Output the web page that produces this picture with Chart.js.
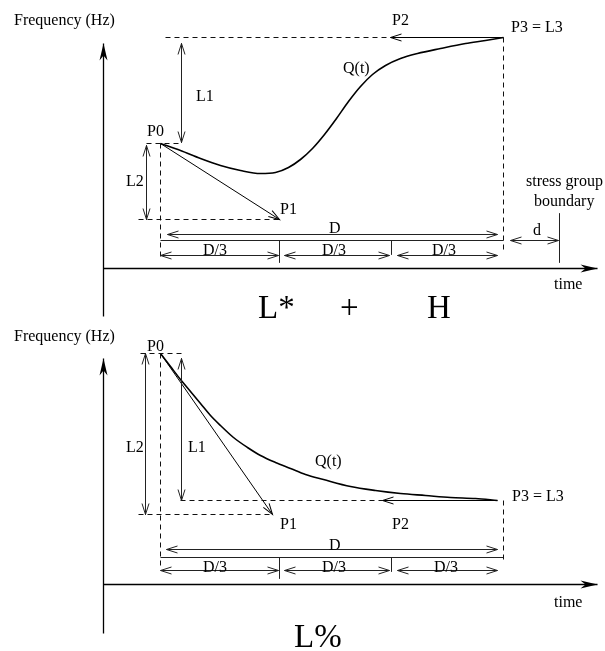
<!DOCTYPE html>
<html><head><meta charset="utf-8">
<script src="https://cdn.jsdelivr.net/npm/chart.js@4"></script>
<style>html,body{margin:0;padding:0;background:#fff}#wrap{width:605px;height:651px}</style>
</head><body><div id="wrap"><canvas id="c" width="605" height="651"></canvas></div>
<script>
// ---------- DATA (diagram coordinates: x = time, y = frequency, y grows downward) ----------
// Q(t) curve samples, top panel (L* + H)
const topCurveX = [160,180,200,220,240,260,275,288,300,312,324,336,348,360,372,385,400,417,440,465,485,503];
const topCurveY = [143,150,158,165,170,173,172,167,159,148,134,118,101,86,74,65,58,53,48,43,40,37];
// Q(t) curve samples, bottom panel (L%)
const botCurveX = [160,170,180,190,200,210,220,233,247,260,275,290,305,323,350,375,400,425,450,475,497];
const botCurveY = [353,366,379,391,403,415,425,437,447,455,462,468,474,479,486,490,493,495,497,498,500];
// control points P0, P1, P2, P3
const topPX = [160,279,390,503], topPY = [143,219,37,37];
const botPX = [160,272,382,497], botPY = [353,514,500,500];
// D/3 division positions on the time axis
const thirdsX = [160,279,391,503];

// axes [x1,y1,x2,y2]
const axes = [[103,316,103,43],[103,268,597,268],[103,633,103,358],[103,584,597,584]];
// dashed guide lines
const dashed = [
  [165,37,390,37],[503,37,503,250],[146,143,182,143],[160,143,160,258],[138,219,278,219],
  [140,353,185,353],[160,353,160,566],[138,514,272,514],[180,500,382,500],[503,500,503,562]
];
// dimension arrows [x1,y1,x2,y2,heads]
const dims = [
  [181,43,181,142,'both'],[146,145,146,219,'both'],
  [167,234,497,234,'both'],[160,255,278,255,'both'],[284,255,389,255,'both'],[397,255,497,255,'both'],
  [510,240,558,240,'both'],
  [145,353,145,514,'both'],[181,358,181,500,'both'],
  [166,549,497,549,'both'],[160,570,278,570,'both'],[284,570,389,570,'both'],[397,570,497,570,'both']
];
// plain solid lines (brackets, ticks, boundary)
const plain = [
  [160,240,503,240],[279,240,279,262],[391,240,391,254],[559,213,559,262],
  [160,557,503,557],[279,557,279,578],[391,557,391,571]
];
// text labels [text, x, baseline y, size]
const texts = [
  ['Frequency (Hz)',13,24,16],['P2',391,24,16],['P3 = L3',510,31,16],['Q(t)',342,72,16],
  ['L1',195,100,16],['P0',146,135,16],['L2',125,185,16],['P1',279,213,16],
  ['stress group',525,185,16],['boundary',533,205,16],['D',328,232,16],['d',532,234,16],
  ['D/3',202,254,16],['D/3',321,254,16],['D/3',431,254,16],['time',553,288,16],
  ['L*',257,317,33],['+',339,317,33],['H',426,317,33],
  ['Frequency (Hz)',13,340,16],['P0',146,350,16],['L2',125,451,16],['L1',187,451,16],
  ['Q(t)',314,465,16],['P3 = L3',511,500,16],['P1',279,528,16],['P2',392,528,16],
  ['D',328,549,16],['D/3',202,571,16],['D/3',321,571,16],['D/3',433,571,16],
  ['time',553,606,16],['L%',293,646,33]
];

// ---------- build datasets ----------
const pts = (xs, ys) => xs.map((x,i)=>({x, y: ys[i]}));
const seg = (s, extra) => Object.assign({
  data:[{x:s[0],y:s[1]},{x:s[2],y:s[3]}], showLine:true, borderColor:'#000',
  borderWidth:1, pointRadius:0, fill:false, tension:0
}, extra||{});

const datasets = [];
axes.forEach(a => datasets.push(seg(a,{borderWidth:1.3, heads:'end', headType:'filled'})));
dashed.forEach(d => datasets.push(seg(d,{borderDash:[5,4], borderColor:'#111'})));
dims.forEach(d => datasets.push(seg(d,{borderColor:'#222', heads:d[4], headType:'open'})));
plain.forEach(p => datasets.push(seg(p,{borderColor:'#222'})));
// P1 and P2 arrows from control points
datasets.push(seg([topPX[0],topPY[0],topPX[1],topPY[1]],{heads:'end',headType:'open'}));
datasets.push(seg([topPX[3],topPY[3],topPX[2],topPY[2]],{heads:'end',headType:'open'}));
datasets.push(seg([botPX[0],botPY[0],botPX[1],botPY[1]],{heads:'end',headType:'open'}));
datasets.push(seg([botPX[3],botPY[3],botPX[2],botPY[2]],{heads:'end',headType:'open'}));
// curves
datasets.push({data:pts(topCurveX,topCurveY), showLine:true, borderColor:'#000', borderWidth:1.6,
  pointRadius:0, fill:false, cubicInterpolationMode:'monotone'});
datasets.push({data:pts(botCurveX,botCurveY), showLine:true, borderColor:'#000', borderWidth:1.6,
  pointRadius:0, fill:false, cubicInterpolationMode:'monotone'});

function drawHead(ctx, from, tip, type, color){
  const ang = Math.atan2(tip[1]-from[1], tip[0]-from[0]);
  ctx.save(); ctx.translate(tip[0], tip[1]); ctx.rotate(ang);
  if (type === 'filled'){
    ctx.beginPath(); ctx.moveTo(0,0); ctx.lineTo(-17,-4); ctx.lineTo(-12,0); ctx.lineTo(-17,4); ctx.closePath();
    ctx.fillStyle = color; ctx.fill();
  } else {
    ctx.beginPath(); ctx.moveTo(-11,-3.5); ctx.lineTo(0,0); ctx.lineTo(-11,3.5);
    ctx.strokeStyle = color; ctx.lineWidth = 1; ctx.stroke();
  }
  ctx.restore();
}

const arrowPlugin = {
  id:'arrows',
  afterDatasetsDraw(chart){
    const ctx = chart.ctx, xs = chart.scales.x, ys = chart.scales.y;
    chart.data.datasets.forEach(ds => {
      if (!ds.heads) return;
      const p = ds.data.map(d => [xs.getPixelForValue(d.x), ys.getPixelForValue(d.y)]);
      const n = p.length;
      if (ds.heads === 'end' || ds.heads === 'both') drawHead(ctx, p[n-2], p[n-1], ds.headType, ds.borderColor);
      if (ds.heads === 'start' || ds.heads === 'both') drawHead(ctx, p[1], p[0], ds.headType, ds.borderColor);
    });
  }
};

const textPlugin = {
  id:'texts',
  afterDatasetsDraw(chart){
    const ctx = chart.ctx, xs = chart.scales.x, ys = chart.scales.y;
    ctx.save();
    ctx.fillStyle = '#000'; ctx.textAlign = 'left'; ctx.textBaseline = 'alphabetic';
    texts.forEach(([t,x,y,s]) => {
      ctx.font = s + 'px "Liberation Serif", "Times New Roman", serif';
      ctx.fillText(t, Math.round(xs.getPixelForValue(x)), Math.round(ys.getPixelForValue(y)));
    });
    ctx.restore();
  }
};

new Chart(document.getElementById('c'), {
  type:'scatter',
  data:{datasets},
  options:{
    responsive:false, animation:false, devicePixelRatio:1,
    layout:{padding:0},
    plugins:{legend:{display:false}, tooltip:{enabled:false}},
    scales:{
      x:{type:'linear', min:-0.5, max:604.5, display:false},
      y:{type:'linear', min:-0.5, max:650.5, reverse:true, display:false}
    }
  },
  plugins:[arrowPlugin, textPlugin]
});
</script></body></html>
